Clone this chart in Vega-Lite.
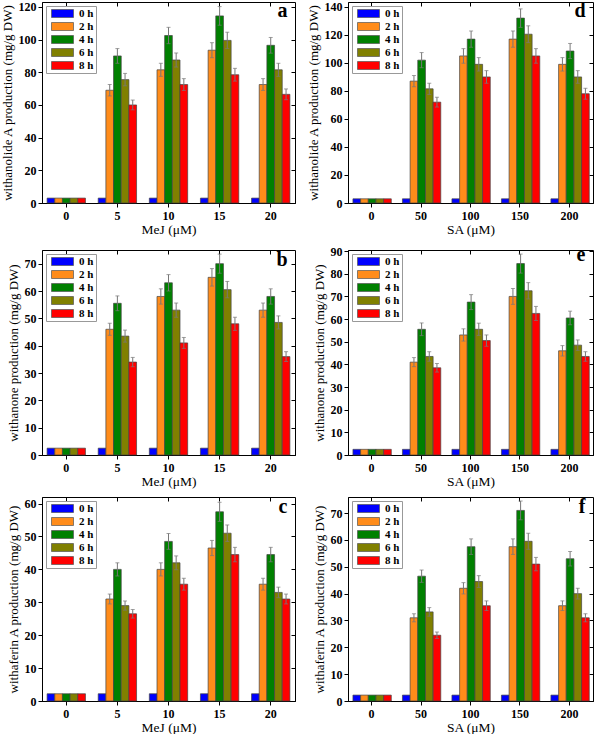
{
"$schema": "https://vega.github.io/schema/vega-lite/v6.json",
"padding": {"left": 0, "top": 0, "right": 3, "bottom": 0},
"data": {"values": [
{"p":"a","d":0,"t":"0 h","v":3},{"p":"a","d":0,"t":"2 h","v":3},{"p":"a","d":0,"t":"4 h","v":3},{"p":"a","d":0,"t":"6 h","v":3},{"p":"a","d":0,"t":"8 h","v":3},
{"p":"a","d":5,"t":"0 h","v":3},{"p":"a","d":5,"t":"2 h","v":69,"lo":65.5,"hi":72.5},{"p":"a","d":5,"t":"4 h","v":90,"lo":85.5,"hi":94.5},{"p":"a","d":5,"t":"6 h","v":75.5,"lo":71.7,"hi":79.3},{"p":"a","d":5,"t":"8 h","v":60,"lo":57,"hi":63},
{"p":"a","d":10,"t":"0 h","v":3},{"p":"a","d":10,"t":"2 h","v":81.5,"lo":77.5,"hi":85.5},{"p":"a","d":10,"t":"4 h","v":102.5,"lo":97.5,"hi":107.5},{"p":"a","d":10,"t":"6 h","v":87.5,"lo":83.2,"hi":91.8},{"p":"a","d":10,"t":"8 h","v":72.5,"lo":68.9,"hi":76.1},
{"p":"a","d":15,"t":"0 h","v":3},{"p":"a","d":15,"t":"2 h","v":93.5,"lo":88.9,"hi":98.1},{"p":"a","d":15,"t":"4 h","v":114.5,"lo":108.8,"hi":120.2},{"p":"a","d":15,"t":"6 h","v":99.5,"lo":94.5,"hi":104.5},{"p":"a","d":15,"t":"8 h","v":78.5,"lo":74.6,"hi":82.4},
{"p":"a","d":20,"t":"0 h","v":3},{"p":"a","d":20,"t":"2 h","v":72.5,"lo":68.9,"hi":76.1},{"p":"a","d":20,"t":"4 h","v":96.5,"lo":91.7,"hi":101.3},{"p":"a","d":20,"t":"6 h","v":81.5,"lo":77.5,"hi":85.5},{"p":"a","d":20,"t":"8 h","v":66.5,"lo":63.2,"hi":69.8},
{"p":"d","d":0,"t":"0 h","v":3},{"p":"d","d":0,"t":"2 h","v":3},{"p":"d","d":0,"t":"4 h","v":3},{"p":"d","d":0,"t":"6 h","v":3},{"p":"d","d":0,"t":"8 h","v":3},
{"p":"d","d":50,"t":"0 h","v":3},{"p":"d","d":50,"t":"2 h","v":87,"lo":83,"hi":91},{"p":"d","d":50,"t":"4 h","v":102,"lo":96.6,"hi":107.4},{"p":"d","d":50,"t":"6 h","v":81.5,"lo":77.5,"hi":85.5},{"p":"d","d":50,"t":"8 h","v":72,"lo":68.5,"hi":75.5},
{"p":"d","d":100,"t":"0 h","v":3},{"p":"d","d":100,"t":"2 h","v":105,"lo":99.8,"hi":110.2},{"p":"d","d":100,"t":"4 h","v":117,"lo":111.2,"hi":122.8},{"p":"d","d":100,"t":"6 h","v":99,"lo":94.2,"hi":103.8},{"p":"d","d":100,"t":"8 h","v":90,"lo":85.5,"hi":94.5},
{"p":"d","d":150,"t":"0 h","v":3},{"p":"d","d":150,"t":"2 h","v":117,"lo":111.2,"hi":122.8},{"p":"d","d":150,"t":"4 h","v":132,"lo":125.4,"hi":138.6},{"p":"d","d":150,"t":"6 h","v":120.5,"lo":114.5,"hi":126.5},{"p":"d","d":150,"t":"8 h","v":105,"lo":99.8,"hi":110.2},
{"p":"d","d":200,"t":"0 h","v":3},{"p":"d","d":200,"t":"2 h","v":99,"lo":94.2,"hi":103.8},{"p":"d","d":200,"t":"4 h","v":108.5,"lo":103.1,"hi":113.9},{"p":"d","d":200,"t":"6 h","v":90,"lo":85.5,"hi":94.5},{"p":"d","d":200,"t":"8 h","v":78,"lo":74.1,"hi":81.9},
{"p":"b","d":0,"t":"0 h","v":2.5},{"p":"b","d":0,"t":"2 h","v":2.5},{"p":"b","d":0,"t":"4 h","v":2.5},{"p":"b","d":0,"t":"6 h","v":2.5},{"p":"b","d":0,"t":"8 h","v":2.5},
{"p":"b","d":5,"t":"0 h","v":2.5},{"p":"b","d":5,"t":"2 h","v":46,"lo":43.8,"hi":48.2},{"p":"b","d":5,"t":"4 h","v":55.5,"lo":52.8,"hi":58.2},{"p":"b","d":5,"t":"6 h","v":43.5,"lo":41.3,"hi":45.7},{"p":"b","d":5,"t":"8 h","v":34,"lo":32.3,"hi":35.7},
{"p":"b","d":10,"t":"0 h","v":2.5},{"p":"b","d":10,"t":"2 h","v":58,"lo":55.2,"hi":60.8},{"p":"b","d":10,"t":"4 h","v":63,"lo":60,"hi":66},{"p":"b","d":10,"t":"6 h","v":53,"lo":50.4,"hi":55.6},{"p":"b","d":10,"t":"8 h","v":41,"lo":39,"hi":43},
{"p":"b","d":15,"t":"0 h","v":2.5},{"p":"b","d":15,"t":"2 h","v":65,"lo":61.8,"hi":68.2},{"p":"b","d":15,"t":"4 h","v":70,"lo":66.5,"hi":73.5},{"p":"b","d":15,"t":"6 h","v":60.5,"lo":57.5,"hi":63.5},{"p":"b","d":15,"t":"8 h","v":48,"lo":45.6,"hi":50.4},
{"p":"b","d":20,"t":"0 h","v":2.5},{"p":"b","d":20,"t":"2 h","v":53,"lo":50.4,"hi":55.6},{"p":"b","d":20,"t":"4 h","v":58,"lo":55.2,"hi":60.8},{"p":"b","d":20,"t":"6 h","v":48.5,"lo":46.1,"hi":50.9},{"p":"b","d":20,"t":"8 h","v":36,"lo":34.2,"hi":37.8},
{"p":"e","d":0,"t":"0 h","v":2.5},{"p":"e","d":0,"t":"2 h","v":2.5},{"p":"e","d":0,"t":"4 h","v":2.5},{"p":"e","d":0,"t":"6 h","v":2.5},{"p":"e","d":0,"t":"8 h","v":2.5},
{"p":"e","d":50,"t":"0 h","v":2.5},{"p":"e","d":50,"t":"2 h","v":41,"lo":39,"hi":43},{"p":"e","d":50,"t":"4 h","v":55.5,"lo":52.7,"hi":58.3},{"p":"e","d":50,"t":"6 h","v":43.5,"lo":41.4,"hi":45.6},{"p":"e","d":50,"t":"8 h","v":38.5,"lo":36.6,"hi":40.4},
{"p":"e","d":100,"t":"0 h","v":2.5},{"p":"e","d":100,"t":"2 h","v":53,"lo":50.3,"hi":55.7},{"p":"e","d":100,"t":"4 h","v":67.5,"lo":64.2,"hi":70.8},{"p":"e","d":100,"t":"6 h","v":55.5,"lo":52.8,"hi":58.2},{"p":"e","d":100,"t":"8 h","v":50.5,"lo":48,"hi":53},
{"p":"e","d":150,"t":"0 h","v":2.5},{"p":"e","d":150,"t":"2 h","v":70,"lo":66.5,"hi":73.5},{"p":"e","d":150,"t":"4 h","v":84.5,"lo":80.3,"hi":88.7},{"p":"e","d":150,"t":"6 h","v":72.5,"lo":68.9,"hi":76.1},{"p":"e","d":150,"t":"8 h","v":62.5,"lo":59.4,"hi":65.6},
{"p":"e","d":200,"t":"0 h","v":2.5},{"p":"e","d":200,"t":"2 h","v":46,"lo":43.7,"hi":48.3},{"p":"e","d":200,"t":"4 h","v":60.5,"lo":57.5,"hi":63.5},{"p":"e","d":200,"t":"6 h","v":48.5,"lo":46.2,"hi":50.8},{"p":"e","d":200,"t":"8 h","v":43.5,"lo":41.4,"hi":45.6},
{"p":"c","d":0,"t":"0 h","v":2.2},{"p":"c","d":0,"t":"2 h","v":2.2},{"p":"c","d":0,"t":"4 h","v":2.2},{"p":"c","d":0,"t":"6 h","v":2.2},{"p":"c","d":0,"t":"8 h","v":2.2},
{"p":"c","d":5,"t":"0 h","v":2.2},{"p":"c","d":5,"t":"2 h","v":31,"lo":29.5,"hi":32.5},{"p":"c","d":5,"t":"4 h","v":40,"lo":38,"hi":42},{"p":"c","d":5,"t":"6 h","v":29,"lo":27.6,"hi":30.4},{"p":"c","d":5,"t":"8 h","v":26.5,"lo":25.2,"hi":27.8},
{"p":"c","d":10,"t":"0 h","v":2.2},{"p":"c","d":10,"t":"2 h","v":40,"lo":38,"hi":42},{"p":"c","d":10,"t":"4 h","v":48.5,"lo":46.1,"hi":50.9},{"p":"c","d":10,"t":"6 h","v":42,"lo":39.9,"hi":44.1},{"p":"c","d":10,"t":"8 h","v":35.5,"lo":33.7,"hi":37.3},
{"p":"c","d":15,"t":"0 h","v":2.2},{"p":"c","d":15,"t":"2 h","v":46.5,"lo":44.2,"hi":48.8},{"p":"c","d":15,"t":"4 h","v":57.5,"lo":54.6,"hi":60.4},{"p":"c","d":15,"t":"6 h","v":51,"lo":48.5,"hi":53.5},{"p":"c","d":15,"t":"8 h","v":44.5,"lo":42.3,"hi":46.7},
{"p":"c","d":20,"t":"0 h","v":2.2},{"p":"c","d":20,"t":"2 h","v":35.5,"lo":33.7,"hi":37.3},{"p":"c","d":20,"t":"4 h","v":44.5,"lo":42.3,"hi":46.7},{"p":"c","d":20,"t":"6 h","v":33,"lo":31.4,"hi":34.6},{"p":"c","d":20,"t":"8 h","v":31,"lo":29.5,"hi":32.5},
{"p":"f","d":0,"t":"0 h","v":2.2},{"p":"f","d":0,"t":"2 h","v":2.2},{"p":"f","d":0,"t":"4 h","v":2.2},{"p":"f","d":0,"t":"6 h","v":2.2},{"p":"f","d":0,"t":"8 h","v":2.2},
{"p":"f","d":50,"t":"0 h","v":2.2},{"p":"f","d":50,"t":"2 h","v":31,"lo":29.5,"hi":32.5},{"p":"f","d":50,"t":"4 h","v":46.5,"lo":44.2,"hi":48.8},{"p":"f","d":50,"t":"6 h","v":33.2,"lo":31.6,"hi":34.8},{"p":"f","d":50,"t":"8 h","v":24.5,"lo":23.3,"hi":25.7},
{"p":"f","d":100,"t":"0 h","v":2.2},{"p":"f","d":100,"t":"2 h","v":42,"lo":39.9,"hi":44.1},{"p":"f","d":100,"t":"4 h","v":57.5,"lo":54.6,"hi":60.4},{"p":"f","d":100,"t":"6 h","v":44.5,"lo":42.3,"hi":46.7},{"p":"f","d":100,"t":"8 h","v":35.5,"lo":33.7,"hi":37.3},
{"p":"f","d":150,"t":"0 h","v":2.2},{"p":"f","d":150,"t":"2 h","v":57.5,"lo":54.6,"hi":60.4},{"p":"f","d":150,"t":"4 h","v":71,"lo":67.5,"hi":74.5},{"p":"f","d":150,"t":"6 h","v":59.5,"lo":56.5,"hi":62.5},{"p":"f","d":150,"t":"8 h","v":51,"lo":48.5,"hi":53.5},
{"p":"f","d":200,"t":"0 h","v":2.2},{"p":"f","d":200,"t":"2 h","v":35.5,"lo":33.7,"hi":37.3},{"p":"f","d":200,"t":"4 h","v":53,"lo":50.3,"hi":55.7},{"p":"f","d":200,"t":"6 h","v":40,"lo":38,"hi":42},{"p":"f","d":200,"t":"8 h","v":31,"lo":29.5,"hi":32.5}
]},
"columns": 2,
"spacing": {"row": 8, "column": 10},
"resolve": {"scale": {"color": "independent"}},
"concat": [
{
 "width": 253, "height": 201,
 "title": {"text": "a", "anchor": "end", "offset": -20, "dx": -8},
 "transform": [{"filter": "datum.p == 'a'"}],
 "layer": [
  {"mark": {"type": "bar", "stroke": "#444", "strokeWidth": 0.7},
   "encoding": {
    "x": {"field": "d", "type": "ordinal", "title": "MeJ (μM)", "scale": {"paddingInner": 0.25, "paddingOuter": 0.1}, "axis": {"labelAngle": 0}},
    "xOffset": {"field": "t", "type": "nominal", "scale": {"paddingInner": 0, "paddingOuter": 0}},
    "y": {"field": "v", "type": "quantitative", "title": "withanolide A production (mg/g DW)", "scale": {"domain": [0, 123], "nice": false}, "axis": {"values": [0,20,40,60,80,100,120]}},
    "color": {"field": "t", "type": "nominal", "title": null, "scale": {"domain": ["0 h","2 h","4 h","6 h","8 h"], "range": ["#0000ff","#ff8c1a","#008000","#808000","#ff0000"]}, "legend": {"symbolType": "M-1,-2H10V2H-1Z", "symbolSize": 16}}
   }},
  {"mark": {"type": "rule", "color": "#777", "strokeWidth": 1},
   "transform": [{"filter": "isValid(datum.hi)"}],
   "encoding": {
    "x": {"field": "d", "type": "ordinal", "axis": {"orient": "top", "labels": false, "title": null, "tickSize": -4, "domain": false}},
    "xOffset": {"field": "t", "type": "nominal"},
    "y": {"field": "lo", "type": "quantitative", "axis": {"orient": "right", "labels": false, "title": null, "tickSize": -4, "domain": false, "values": [0,20,40,60,80,100,120]}},
    "y2": {"field": "hi"}
   }},
  {"mark": {"type": "tick", "orient": "horizontal", "color": "#777", "size": 4, "thickness": 1},
   "transform": [{"filter": "isValid(datum.hi)"}],
   "encoding": {"x": {"field": "d", "type": "ordinal", "axis": null}, "xOffset": {"field": "t", "type": "nominal"}, "y": {"field": "hi", "type": "quantitative", "axis": null}}},
  {"mark": {"type": "tick", "orient": "horizontal", "color": "#777", "size": 4, "thickness": 1},
   "transform": [{"filter": "isValid(datum.lo)"}],
   "encoding": {"x": {"field": "d", "type": "ordinal", "axis": null}, "xOffset": {"field": "t", "type": "nominal"}, "y": {"field": "lo", "type": "quantitative", "axis": null}}}
 ],
 "resolve": {"axis": {"x": "independent", "y": "independent"}}
},
{
 "width": 245, "height": 201,
 "title": {"text": "d", "anchor": "end", "offset": -20, "dx": -8},
 "transform": [{"filter": "datum.p == 'd'"}],
 "layer": [
  {"mark": {"type": "bar", "stroke": "#444", "strokeWidth": 0.7},
   "encoding": {
    "x": {"field": "d", "type": "ordinal", "title": "SA (μM)", "scale": {"paddingInner": 0.25, "paddingOuter": 0.1}, "axis": {"labelAngle": 0}},
    "xOffset": {"field": "t", "type": "nominal", "scale": {"paddingInner": 0, "paddingOuter": 0}},
    "y": {"field": "v", "type": "quantitative", "title": "withanolide A production (mg/g DW)", "scale": {"domain": [0, 143.5], "nice": false}, "axis": {"values": [0,20,40,60,80,100,120,140]}},
    "color": {"field": "t", "type": "nominal", "title": null, "scale": {"domain": ["0 h","2 h","4 h","6 h","8 h"], "range": ["#0000ff","#ff8c1a","#008000","#808000","#ff0000"]}, "legend": {"symbolType": "M-1,-2H10V2H-1Z", "symbolSize": 16}}
   }},
  {"mark": {"type": "rule", "color": "#777", "strokeWidth": 1},
   "transform": [{"filter": "isValid(datum.hi)"}],
   "encoding": {
    "x": {"field": "d", "type": "ordinal", "axis": {"orient": "top", "labels": false, "title": null, "tickSize": -4, "domain": false}},
    "xOffset": {"field": "t", "type": "nominal"},
    "y": {"field": "lo", "type": "quantitative", "axis": {"orient": "right", "labels": false, "title": null, "tickSize": -4, "domain": false, "values": [0,20,40,60,80,100,120,140]}},
    "y2": {"field": "hi"}
   }},
  {"mark": {"type": "tick", "orient": "horizontal", "color": "#777", "size": 4, "thickness": 1},
   "transform": [{"filter": "isValid(datum.hi)"}],
   "encoding": {"x": {"field": "d", "type": "ordinal", "axis": null}, "xOffset": {"field": "t", "type": "nominal"}, "y": {"field": "hi", "type": "quantitative", "axis": null}}},
  {"mark": {"type": "tick", "orient": "horizontal", "color": "#777", "size": 4, "thickness": 1},
   "transform": [{"filter": "isValid(datum.lo)"}],
   "encoding": {"x": {"field": "d", "type": "ordinal", "axis": null}, "xOffset": {"field": "t", "type": "nominal"}, "y": {"field": "lo", "type": "quantitative", "axis": null}}}
 ],
 "resolve": {"axis": {"x": "independent", "y": "independent"}}
},
{
 "width": 253, "height": 205,
 "title": {"text": "b", "anchor": "end", "offset": -20, "dx": -8},
 "transform": [{"filter": "datum.p == 'b'"}],
 "layer": [
  {"mark": {"type": "bar", "stroke": "#444", "strokeWidth": 0.7},
   "encoding": {
    "x": {"field": "d", "type": "ordinal", "title": "MeJ (μM)", "scale": {"paddingInner": 0.25, "paddingOuter": 0.1}, "axis": {"labelAngle": 0}},
    "xOffset": {"field": "t", "type": "nominal", "scale": {"paddingInner": 0, "paddingOuter": 0}},
    "y": {"field": "v", "type": "quantitative", "title": "withanone production (mg/g DW)", "scale": {"domain": [0, 75], "nice": false}, "axis": {"values": [0,10,20,30,40,50,60,70]}},
    "color": {"field": "t", "type": "nominal", "title": null, "scale": {"domain": ["0 h","2 h","4 h","6 h","8 h"], "range": ["#0000ff","#ff8c1a","#008000","#808000","#ff0000"]}, "legend": {"symbolType": "M-1,-2H10V2H-1Z", "symbolSize": 16}}
   }},
  {"mark": {"type": "rule", "color": "#777", "strokeWidth": 1},
   "transform": [{"filter": "isValid(datum.hi)"}],
   "encoding": {
    "x": {"field": "d", "type": "ordinal", "axis": {"orient": "top", "labels": false, "title": null, "tickSize": -4, "domain": false}},
    "xOffset": {"field": "t", "type": "nominal"},
    "y": {"field": "lo", "type": "quantitative", "axis": {"orient": "right", "labels": false, "title": null, "tickSize": -4, "domain": false, "values": [0,10,20,30,40,50,60,70]}},
    "y2": {"field": "hi"}
   }},
  {"mark": {"type": "tick", "orient": "horizontal", "color": "#777", "size": 4, "thickness": 1},
   "transform": [{"filter": "isValid(datum.hi)"}],
   "encoding": {"x": {"field": "d", "type": "ordinal", "axis": null}, "xOffset": {"field": "t", "type": "nominal"}, "y": {"field": "hi", "type": "quantitative", "axis": null}}},
  {"mark": {"type": "tick", "orient": "horizontal", "color": "#777", "size": 4, "thickness": 1},
   "transform": [{"filter": "isValid(datum.lo)"}],
   "encoding": {"x": {"field": "d", "type": "ordinal", "axis": null}, "xOffset": {"field": "t", "type": "nominal"}, "y": {"field": "lo", "type": "quantitative", "axis": null}}}
 ],
 "resolve": {"axis": {"x": "independent", "y": "independent"}}
},
{
 "width": 245, "height": 205,
 "title": {"text": "e", "anchor": "end", "offset": -20, "dx": -8},
 "transform": [{"filter": "datum.p == 'e'"}],
 "layer": [
  {"mark": {"type": "bar", "stroke": "#444", "strokeWidth": 0.7},
   "encoding": {
    "x": {"field": "d", "type": "ordinal", "title": "SA (μM)", "scale": {"paddingInner": 0.25, "paddingOuter": 0.1}, "axis": {"labelAngle": 0}},
    "xOffset": {"field": "t", "type": "nominal", "scale": {"paddingInner": 0, "paddingOuter": 0}},
    "y": {"field": "v", "type": "quantitative", "title": "withanone production (mg/g DW)", "scale": {"domain": [0, 90.5], "nice": false}, "axis": {"values": [0,10,20,30,40,50,60,70,80,90]}},
    "color": {"field": "t", "type": "nominal", "title": null, "scale": {"domain": ["0 h","2 h","4 h","6 h","8 h"], "range": ["#0000ff","#ff8c1a","#008000","#808000","#ff0000"]}, "legend": {"symbolType": "M-1,-2H10V2H-1Z", "symbolSize": 16}}
   }},
  {"mark": {"type": "rule", "color": "#777", "strokeWidth": 1},
   "transform": [{"filter": "isValid(datum.hi)"}],
   "encoding": {
    "x": {"field": "d", "type": "ordinal", "axis": {"orient": "top", "labels": false, "title": null, "tickSize": -4, "domain": false}},
    "xOffset": {"field": "t", "type": "nominal"},
    "y": {"field": "lo", "type": "quantitative", "axis": {"orient": "right", "labels": false, "title": null, "tickSize": -4, "domain": false, "values": [0,10,20,30,40,50,60,70,80,90]}},
    "y2": {"field": "hi"}
   }},
  {"mark": {"type": "tick", "orient": "horizontal", "color": "#777", "size": 4, "thickness": 1},
   "transform": [{"filter": "isValid(datum.hi)"}],
   "encoding": {"x": {"field": "d", "type": "ordinal", "axis": null}, "xOffset": {"field": "t", "type": "nominal"}, "y": {"field": "hi", "type": "quantitative", "axis": null}}},
  {"mark": {"type": "tick", "orient": "horizontal", "color": "#777", "size": 4, "thickness": 1},
   "transform": [{"filter": "isValid(datum.lo)"}],
   "encoding": {"x": {"field": "d", "type": "ordinal", "axis": null}, "xOffset": {"field": "t", "type": "nominal"}, "y": {"field": "lo", "type": "quantitative", "axis": null}}}
 ],
 "resolve": {"axis": {"x": "independent", "y": "independent"}}
},
{
 "width": 253, "height": 204,
 "title": {"text": "c", "anchor": "end", "offset": -20, "dx": -8},
 "transform": [{"filter": "datum.p == 'c'"}],
 "layer": [
  {"mark": {"type": "bar", "stroke": "#444", "strokeWidth": 0.7},
   "encoding": {
    "x": {"field": "d", "type": "ordinal", "title": "MeJ (μM)", "scale": {"paddingInner": 0.25, "paddingOuter": 0.1}, "axis": {"labelAngle": 0}},
    "xOffset": {"field": "t", "type": "nominal", "scale": {"paddingInner": 0, "paddingOuter": 0}},
    "y": {"field": "v", "type": "quantitative", "title": "withaferin A production (mg/g DW)", "scale": {"domain": [0, 62], "nice": false}, "axis": {"values": [0,10,20,30,40,50,60]}},
    "color": {"field": "t", "type": "nominal", "title": null, "scale": {"domain": ["0 h","2 h","4 h","6 h","8 h"], "range": ["#0000ff","#ff8c1a","#008000","#808000","#ff0000"]}, "legend": {"symbolType": "M-1,-2H10V2H-1Z", "symbolSize": 16}}
   }},
  {"mark": {"type": "rule", "color": "#777", "strokeWidth": 1},
   "transform": [{"filter": "isValid(datum.hi)"}],
   "encoding": {
    "x": {"field": "d", "type": "ordinal", "axis": {"orient": "top", "labels": false, "title": null, "tickSize": -4, "domain": false}},
    "xOffset": {"field": "t", "type": "nominal"},
    "y": {"field": "lo", "type": "quantitative", "axis": {"orient": "right", "labels": false, "title": null, "tickSize": -4, "domain": false, "values": [0,10,20,30,40,50,60]}},
    "y2": {"field": "hi"}
   }},
  {"mark": {"type": "tick", "orient": "horizontal", "color": "#777", "size": 4, "thickness": 1},
   "transform": [{"filter": "isValid(datum.hi)"}],
   "encoding": {"x": {"field": "d", "type": "ordinal", "axis": null}, "xOffset": {"field": "t", "type": "nominal"}, "y": {"field": "hi", "type": "quantitative", "axis": null}}},
  {"mark": {"type": "tick", "orient": "horizontal", "color": "#777", "size": 4, "thickness": 1},
   "transform": [{"filter": "isValid(datum.lo)"}],
   "encoding": {"x": {"field": "d", "type": "ordinal", "axis": null}, "xOffset": {"field": "t", "type": "nominal"}, "y": {"field": "lo", "type": "quantitative", "axis": null}}}
 ],
 "resolve": {"axis": {"x": "independent", "y": "independent"}}
},
{
 "width": 245, "height": 204,
 "title": {"text": "f", "anchor": "end", "offset": -20, "dx": -8},
 "transform": [{"filter": "datum.p == 'f'"}],
 "layer": [
  {"mark": {"type": "bar", "stroke": "#444", "strokeWidth": 0.7},
   "encoding": {
    "x": {"field": "d", "type": "ordinal", "title": "SA (μM)", "scale": {"paddingInner": 0.25, "paddingOuter": 0.1}, "axis": {"labelAngle": 0}},
    "xOffset": {"field": "t", "type": "nominal", "scale": {"paddingInner": 0, "paddingOuter": 0}},
    "y": {"field": "v", "type": "quantitative", "title": "withaferin A production (mg/g DW)", "scale": {"domain": [0, 76], "nice": false}, "axis": {"values": [0,10,20,30,40,50,60,70]}},
    "color": {"field": "t", "type": "nominal", "title": null, "scale": {"domain": ["0 h","2 h","4 h","6 h","8 h"], "range": ["#0000ff","#ff8c1a","#008000","#808000","#ff0000"]}, "legend": {"symbolType": "M-1,-2H10V2H-1Z", "symbolSize": 16}}
   }},
  {"mark": {"type": "rule", "color": "#777", "strokeWidth": 1},
   "transform": [{"filter": "isValid(datum.hi)"}],
   "encoding": {
    "x": {"field": "d", "type": "ordinal", "axis": {"orient": "top", "labels": false, "title": null, "tickSize": -4, "domain": false}},
    "xOffset": {"field": "t", "type": "nominal"},
    "y": {"field": "lo", "type": "quantitative", "axis": {"orient": "right", "labels": false, "title": null, "tickSize": -4, "domain": false, "values": [0,10,20,30,40,50,60,70]}},
    "y2": {"field": "hi"}
   }},
  {"mark": {"type": "tick", "orient": "horizontal", "color": "#777", "size": 4, "thickness": 1},
   "transform": [{"filter": "isValid(datum.hi)"}],
   "encoding": {"x": {"field": "d", "type": "ordinal", "axis": null}, "xOffset": {"field": "t", "type": "nominal"}, "y": {"field": "hi", "type": "quantitative", "axis": null}}},
  {"mark": {"type": "tick", "orient": "horizontal", "color": "#777", "size": 4, "thickness": 1},
   "transform": [{"filter": "isValid(datum.lo)"}],
   "encoding": {"x": {"field": "d", "type": "ordinal", "axis": null}, "xOffset": {"field": "t", "type": "nominal"}, "y": {"field": "lo", "type": "quantitative", "axis": null}}}
 ],
 "resolve": {"axis": {"x": "independent", "y": "independent"}}
}
],
"config": {
 "font": "Liberation Serif",
 "background": "white",
 "view": {"stroke": "#000", "strokeWidth": 1},
 "title": {"font": "Liberation Serif", "fontSize": 20, "fontWeight": "bold", "color": "#000"},
 "axis": {"grid": false, "domainColor": "#000", "tickColor": "#000", "labelColor": "#000", "titleColor": "#000", "labelFont": "Liberation Serif", "titleFont": "Liberation Serif", "labelFontSize": 12, "titleFontSize": 13.5, "titleFontWeight": "normal", "labelFontWeight": "bold", "tickSize": 4, "labelPadding": 3, "titlePadding": 1},
 "axisY": {"labelFontSize": 12, "titleFontSize": 13, "labelPadding": 2, "titlePadding": 4},
 "legend": {"orient": "top-left", "offset": 4, "strokeColor": "#999", "fillColor": "#fff", "padding": 2, "labelFont": "Liberation Serif", "labelFontSize": 11, "labelFontWeight": "bold", "labelColor": "#000", "symbolStrokeColor": "#555", "symbolStrokeWidth": 0.7, "symbolOpacity": 1, "rowPadding": 1, "labelOffset": 20}
}
}
